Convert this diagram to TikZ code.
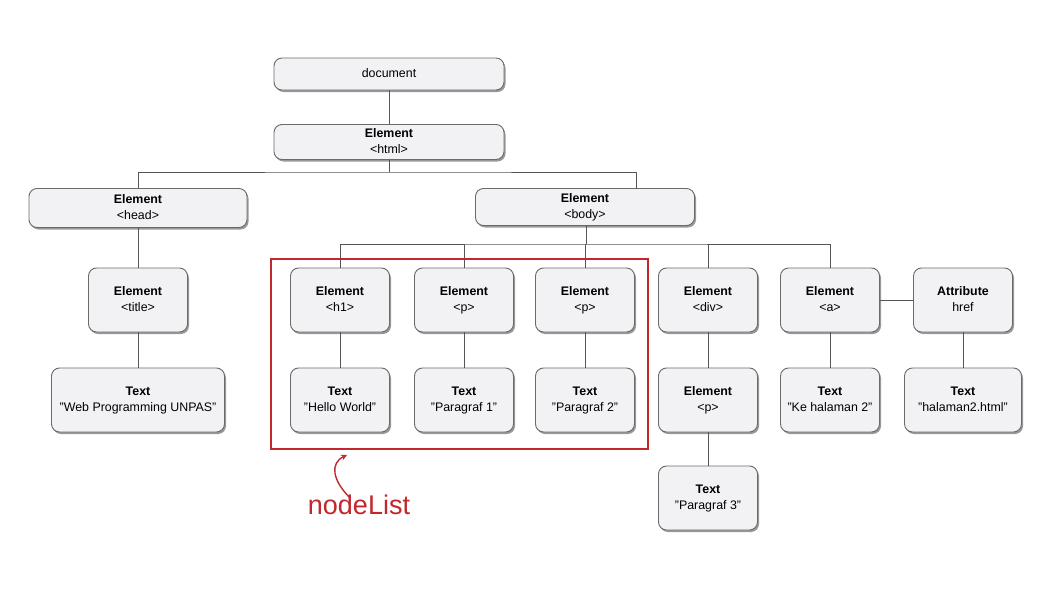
\documentclass[tikz,border=0pt]{standalone}
\usepackage{fontspec}
\setmainfont{Liberation Sans}
\usetikzlibrary{shadows,arrows.meta}
\definecolor{boxfill}{HTML}{F2F2F4}
\definecolor{boxline}{HTML}{6A6A6A}
\definecolor{conn}{HTML}{555555}
\definecolor{annred}{HTML}{C1272D}
\newcommand{\dq}{\symbol{34}}
\newcommand{\twoline}[2]{\textbf{#1}\strut\\#2\strut}
\tikzset{
  domnode/.style={draw=boxline, line width=0.9pt, fill=boxfill, rounded corners=8pt,
    align=center, font=\fontsize{12.4}{16}\selectfont, inner sep=1pt,
    drop shadow={shadow xshift=1.5pt, shadow yshift=-2pt, fill=black, opacity=0.4}},
  small/.style={domnode, minimum width=99pt, minimum height=64pt},
  conline/.style={draw=conn, line width=1pt},
}
\begin{document}
\begin{tikzpicture}[x=1pt,y=-1pt]
\useasboundingbox (0,0) rectangle (1045,589);
\fill[white] (0,0) rectangle (1045,589);
% nodes
\node[domnode, minimum width=230pt, minimum height=32pt] (doc) at (389,74) {document\strut};
\node[domnode, minimum width=230pt, minimum height=35pt] (html) at (389,142) {\twoline{Element}{<html>}};
\node[domnode, minimum width=218pt, minimum height=39pt] (head) at (138,208) {\twoline{Element}{<head>}};
\node[domnode, minimum width=219pt, minimum height=37pt] (body) at (585,207) {\twoline{Element}{<body>}};
\node[small] (title) at (138,300) {\twoline{Element}{<title>}};
\node[domnode, minimum width=173pt, minimum height=64pt] (wp) at (138,400) {\twoline{Text}{\dq Web Programming UNPAS\dq}};
\node[small] (h1) at (340,300) {\twoline{Element}{<h1>}};
\node[small] (p1) at (464,300) {\twoline{Element}{<p>}};
\node[small] (p2) at (585,300) {\twoline{Element}{<p>}};
\node[small] (div) at (708,300) {\twoline{Element}{<div>}};
\node[small] (a) at (830,300) {\twoline{Element}{<a>}};
\node[small] (href) at (963,300) {\twoline{Attribute}{href}};
\node[small] (hw) at (340,400) {\twoline{Text}{\dq Hello World\dq}};
\node[small] (t1) at (464,400) {\twoline{Text}{\dq Paragraf 1\dq}};
\node[small] (t2) at (585,400) {\twoline{Text}{\dq Paragraf 2\dq}};
\node[small] (p3) at (708,400) {\twoline{Element}{<p>}};
\node[small] (ke) at (830,400) {\twoline{Text}{\dq Ke halaman 2\dq}};
\node[domnode, minimum width=117pt, minimum height=64pt] (hh) at (963,400) {\twoline{Text}{\dq halaman2.html\dq}};
\node[small] (t3) at (708,498) {\twoline{Text}{\dq Paragraf 3\dq}};
% junctions
\coordinate (j1) at (389,172);
\coordinate (bt) at (636,188.5);
\coordinate (j2) at (586,244);
% connectors
\draw[conline] (doc) -- (html);
\draw[conline] (html.south) -- (j1);
\draw[conline] (head.north) |- (j1) -| (bt);
\draw[conline] (body.south -| j2) -- (j2);
\draw[conline] (h1.north) |- (j2) -| (a.north);
\draw[conline] (p1.north) -- (p1.north |- j2);
\draw[conline] (p2.north) -- (p2.north |- j2);
\draw[conline] (div.north) -- (div.north |- j2);
\draw[conline] (head) -- (title);
\draw[conline] (title) -- (wp);
\draw[conline] (h1) -- (hw);
\draw[conline] (p1) -- (t1);
\draw[conline] (p2) -- (t2);
\draw[conline] (div) -- (p3);
\draw[conline] (p3) -- (t3);
\draw[conline] (a) -- (ke);
\draw[conline] (a) -- (href);
\draw[conline] (href) -- (hh);
% annotation
\draw[annred, line width=2.6pt] (271,259) rectangle (648,449);
\node[text=annred, font=\fontsize{27}{30}\selectfont, inner sep=0pt] (nl) at (359,505) {nodeList};
\coordinate (tip) at (347,455);
\draw[annred, line width=1.4pt, -{Stealth[length=6pt,width=6pt]}] ([xshift=-9pt,yshift=-3pt]nl.north) .. controls (332,480) and (330,463) .. (tip);
\end{tikzpicture}
\end{document}
